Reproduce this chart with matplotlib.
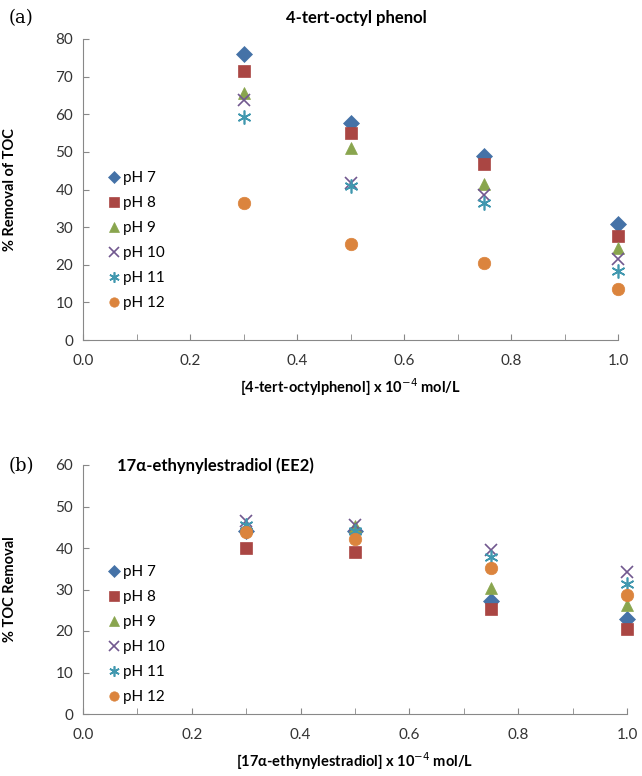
import numpy as np
import matplotlib.pyplot as plt
from matplotlib.ticker import MultipleLocator

plt.rcParams['font.family'] = ['Lato', 'DejaVu Sans']

conc = [0.3, 0.5, 0.75, 1.0]
labels = ["pH 7", "pH 8", "pH 9", "pH 10", "pH 11", "pH 12"]

# 4-tert-octyl phenol, % removal of TOC
op_ph7 = [76.1, 57.6, 48.9, 30.8]
op_ph8 = [71.5, 55.1, 46.7, 27.7]
op_ph9 = [65.6, 51.0, 41.5, 24.4]
op_ph10 = [63.8, 41.7, 38.6, 21.5]
op_ph11 = [59.2, 41.0, 36.5, 18.4]
op_ph12 = [36.5, 25.5, 20.4, 13.6]

# EE2, % TOC removal
ee_ph7 = [44.0, 44.0, 27.2, 23.0]
ee_ph8 = [40.1, 39.0, 25.2, 20.6]
ee_ph9 = [45.0, 45.2, 30.4, 26.2]
ee_ph10 = [46.6, 45.6, 39.4, 34.2]
ee_ph11 = [45.5, 44.0, 37.9, 31.4]
ee_ph12 = [43.8, 42.2, 35.3, 28.6]

colors = ["#4572A7", "#AA4643", "#89A54E", "#71588F", "#4198AF", "#DB843D"]
markers = ["D", "s", "^", "x", (6, 2, 0), "o"]
sizes = [8, 9, 9, 9, 10, 9]

fig = plt.figure(figsize=(6.42, 7.76), dpi=100)
W, H = 642, 776

def panel(rect, series, ymax, title, title_x, title_y, ylabel, xlabel, xlpad,
          leg_y, tag, tag_y):
    l, t, r, b = rect
    ax = fig.add_axes([l / W, 1 - b / H, (r - l) / W, (b - t) / H])
    for ys, lab, c, m, s in zip(series, labels, colors, markers, sizes):
        mew = 1.2 if m in ("x",) or isinstance(m, tuple) else 0.5
        ax.plot(conc, ys, linestyle="none", marker=m, color=c, markersize=s,
                markeredgewidth=mew, label=lab, clip_on=False)
    ax.set_xlim(0, 1.0)
    ax.set_ylim(0, ymax)
    ax.xaxis.set_major_locator(MultipleLocator(0.2))
    ax.xaxis.set_minor_locator(MultipleLocator(0.1))
    ax.yaxis.set_major_locator(MultipleLocator(10))
    ax.xaxis.set_major_formatter(plt.FuncFormatter(lambda v, p: f"{v:.1f}"))
    for s in ["top", "right"]:
        ax.spines[s].set_visible(False)
    for s in ["left", "bottom"]:
        ax.spines[s].set_color("#888888")
    ax.tick_params(direction="in", length=4, color="#888888", labelsize=11,
                   labelcolor="#333333", pad=10)
    ax.tick_params(which="minor", direction="in", length=4, color="#888888")
    ax.tick_params(axis="y", length=4, pad=7)
    ax.set_ylabel(ylabel, fontweight="bold", fontsize=10.5)
    ax.yaxis.set_label_coords(-66 / (r - l), 0.5)
    ax.set_xlabel(xlabel, fontweight="bold", fontsize=10.5, labelpad=xlpad)
    fig.text(title_x / W, 1 - title_y / H, title, fontweight="bold", fontsize=12,
             ha="center", va="center")
    fig.text(9 / W, 1 - tag_y / H, tag, family="DejaVu Serif", fontsize=13,
             va="center")
    ax.legend(loc="upper left", bbox_to_anchor=(107 / W, 1 - leg_y / H),
              bbox_transform=fig.transFigure, frameon=False, fontsize=11,
              handletextpad=0.15, handlelength=0.9, labelspacing=0.72,
              markerscale=0.75, borderpad=0, borderaxespad=0)
    return ax

panel((83, 39, 618, 340),
      [op_ph7, op_ph8, op_ph9, op_ph10, op_ph11, op_ph12], 80,
      "4-tert-octyl phenol", 356, 18, "% Removal of TOC",
      "[4-tert-octylphenol] x 10$^{-4}$ mol/L", 6, 171, "(a)", 18)
panel((83, 465, 627, 714),
      [ee_ph7, ee_ph8, ee_ph9, ee_ph10, ee_ph11, ee_ph12], 60,
      "17α-ethynylestradiol (EE2)", 215, 466, "% TOC Removal",
      "[17α-ethynylestradiol] x 10$^{-4}$ mol/L", 6, 565, "(b)", 466)

fig.savefig("out.png", dpi=100)
